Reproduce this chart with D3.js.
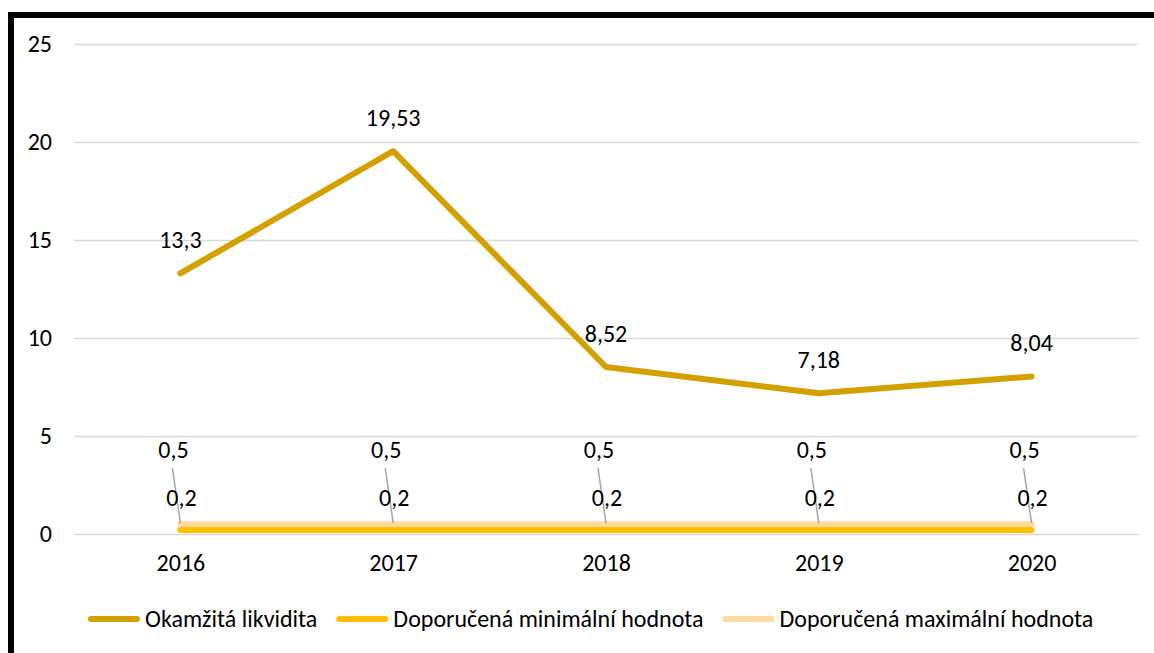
<!DOCTYPE html>
<html>
<head>
<meta charset="utf-8">
<script src="https://cdn.jsdelivr.net/npm/d3@7"></script>
<style>
  body { margin: 0; background: #fff; }
  svg text { font-family: Carlito, Calibri, Lato, "Open Sans", sans-serif; fill: #000; }
</style>
</head>
<body>
<svg id="chart" width="1154" height="653"></svg>
<script>
var years = ["2016", "2017", "2018", "2019", "2020"];
var likvidita = [13.3, 19.53, 8.52, 7.18, 8.04];
var minHodnota = [0.2, 0.2, 0.2, 0.2, 0.2];
var maxHodnota = [0.5, 0.5, 0.5, 0.5, 0.5];
var yTicks = [0, 5, 10, 15, 20, 25];
var seriesNames = ["Okamžitá likvidita", "Doporučená minimální hodnota", "Doporučená maximální hodnota"];
var seriesColors = ["#D4A000", "#FFC000", "#FFDA9C"];

var svg = d3.select("#chart"),
    width = +svg.attr("width"),
    height = +svg.attr("height");

var margin = {left: 74, right: 16, top: 44, bottom: 119};
var fontSize = "24px";

var x = d3.scalePoint()
    .domain(years)
    .range([margin.left, width - margin.right])
    .padding(0.5);

var y = d3.scaleLinear()
    .domain([0, 25])
    .range([height - margin.bottom, margin.top]);

// frame (top and left edge only, like the cropped original)
svg.append("rect").attr("x", 8).attr("y", 12).attr("width", width - 8).attr("height", 6).attr("fill", "#000");
svg.append("rect").attr("x", 8).attr("y", 12).attr("width", 6).attr("height", height - 12).attr("fill", "#000");

// grid
var yAxis = svg.append("g")
    .attr("transform", "translate(" + margin.left + ",0)")
    .call(d3.axisLeft(y).tickValues(yTicks).tickSize(-(width - margin.left - margin.right)).tickPadding(22).tickFormat(d3.format("d")));
yAxis.select(".domain").remove();
yAxis.selectAll(".tick line").attr("stroke", "#D9D9D9").attr("stroke-width", 1.5);
yAxis.selectAll(".tick text").style("font-size", fontSize).attr("fill", "#000");

var xAxis = svg.append("g")
    .attr("transform", "translate(0," + y(0) + ")")
    .call(d3.axisBottom(x).tickSize(0).tickPadding(20));
xAxis.select(".domain").remove();
xAxis.selectAll(".tick text").style("font-size", fontSize).attr("fill", "#000");

var fmt = function (v) { return String(v).replace(".", ","); };

var line = d3.line()
    .x(function (d, i) { return x(years[i]); })
    .y(function (d) { return y(d); });

// max and min reference lines
svg.append("path").datum(maxHodnota)
    .attr("d", line).attr("fill", "none")
    .attr("stroke", seriesColors[2]).attr("stroke-width", 6).attr("stroke-linecap", "round");
svg.append("path").datum(minHodnota)
    .attr("d", line).attr("fill", "none")
    .attr("stroke", seriesColors[1]).attr("stroke-width", 6).attr("stroke-linecap", "round");

svg.append("path").datum(likvidita)
    .attr("d", line).attr("fill", "none")
    .attr("stroke", seriesColors[0]).attr("stroke-width", 6)
    .attr("stroke-linejoin", "round").attr("stroke-linecap", "round");

// leader lines for 0,5 labels
svg.append("g").selectAll("line")
    .data(maxHodnota)
    .enter().append("line")
    .attr("x1", function (d, i) { return x(years[i]) - 8; })
    .attr("y1", function (d) { return y(d) - 56; })
    .attr("x2", function (d, i) { return x(years[i]); })
    .attr("y2", function (d) { return y(d) - 1; })
    .attr("stroke", "#A6A6A6").attr("stroke-width", 1.5);

// labels
svg.append("g").selectAll("text")
    .data(likvidita)
    .enter().append("text")
    .attr("x", function (d, i) { return x(years[i]); })
    .attr("y", function (d) { return y(d) - 25; })
    .attr("text-anchor", "middle")
    .style("font-size", fontSize)
    .text(fmt);

svg.append("g").selectAll("text")
    .data(maxHodnota)
    .enter().append("text")
    .attr("x", function (d, i) { return x(years[i]) - 7; })
    .attr("y", function (d) { return y(d) - 66; })
    .attr("text-anchor", "middle")
    .style("font-size", fontSize)
    .text(fmt);

svg.append("g").selectAll("text")
    .data(minHodnota)
    .enter().append("text")
    .attr("x", function (d, i) { return x(years[i]) + 1; })
    .attr("y", function (d) { return y(d) - 24; })
    .attr("text-anchor", "middle")
    .style("font-size", fontSize)
    .text(fmt);

// legend
var legend = svg.append("g").attr("transform", "translate(0,619)");
var lx = 91;
seriesNames.forEach(function (name, i) {
    var item = legend.append("g").attr("transform", "translate(" + lx + ",0)");
    item.append("line")
        .attr("x1", 0).attr("x2", 46).attr("y1", 0).attr("y2", 0)
        .attr("stroke", seriesColors[i]).attr("stroke-width", 6).attr("stroke-linecap", "round");
    var t = item.append("text")
        .attr("x", 54).attr("y", 8)
        .style("font-size", fontSize)
        .text(name);
    lx += 54 + t.node().getComputedTextLength() + 22;
});
</script>
</body>
</html>
